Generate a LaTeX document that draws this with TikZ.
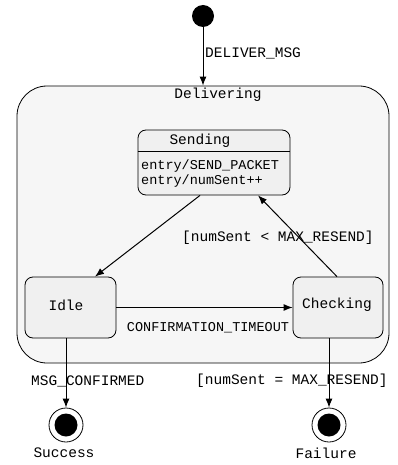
\documentclass[tikz,border=0pt]{standalone}
\usepackage{fontspec}
\setmonofont{Liberation Mono}
\usetikzlibrary{arrows.meta}

\tikzset{
  state/.style={draw, rounded corners=8pt, fill=gray!12, line width=0.8pt, inner sep=0pt},
  final/.style={circle, draw, line width=0.8pt, minimum size=34pt, inner sep=0pt},
  trans/.style={line width=1pt, -{Latex[length=9pt,width=7pt]}},
  lbl/.style={inner sep=0pt, font=\ttfamily\fontsize{14.5}{16}\selectfont},
  smalllbl/.style={inner sep=0pt, font=\ttfamily\fontsize{13.5}{15}\selectfont}
}

\begin{document}
\begin{tikzpicture}[x=1pt,y=-1pt]
        \useasboundingbox (0,0) rectangle (397,465);
        % composite state
        \node[draw, rounded corners=30pt, fill=gray!7, line width=0.8pt,
              minimum width=372pt, minimum height=277pt] (delivering) at (203,224.5) {};
        \node[lbl] (delivtitle) at (218,95) {Delivering};
        % initial state
        \node[circle, fill=black, minimum size=22pt, inner sep=0pt] (init) at (203,16) {};
        % sub states
        \node[state, minimum width=152pt, minimum height=65pt] (sending) at (214,162.5) {};
        \draw[line width=0.8pt] ([yshift=-22pt]sending.north west) -- ([yshift=-22pt]sending.north east);
        \node[lbl] (sendtitle) at (200,141) {Sending};
        \node[smalllbl, anchor=north west, align=left] (sendentry) at (141,160)
             {entry/SEND\_PACKET\\entry/numSent++};
        \node[state, minimum width=91pt, minimum height=61pt] (idle) at (70.5,307.5) {};
        \node[lbl] (idletext) at (66,305) {Idle};
        \node[state, minimum width=90pt, minimum height=61pt] (checking) at (338,307.5) {};
        \node[lbl] (checktext) at (337,305) {Checking};
        % final states
        \node[final] (success) at (66,425) {};
        \node[circle, fill=black, minimum size=23pt, inner sep=0pt] at (success) {};
        \node[lbl] (successtext) at (64,453) {Success};
        \node[final] (failure) at (329,425) {};
        \node[circle, fill=black, minimum size=23pt, inner sep=0pt] at (failure) {};
        \node[lbl] (failuretext) at (326,453) {Failure};
        % transitions
        \draw[trans] (init) -- (delivering.north);
        \node[lbl, anchor=west] at (205,53) {DELIVER\_MSG};
        \draw[trans] ([xshift=-14pt]sending.south) -- ([xshift=24.5pt]idle.north);
        \draw[trans] ([xshift=-1pt]checking.north) -- ([xshift=44pt]sending.south);
        \node[lbl, anchor=west] at (182,238) {[numSent < MAX\_RESEND]};
        \draw[trans] (idle.east) -- (checking.west);
        \node[smalllbl] at (208,328) {CONFIRMATION\_TIMEOUT};
        \draw[trans] (idle.south -| success.north) -- (success.north);
        \node[lbl, anchor=west] at (31,381) {MSG\_CONFIRMED};
        \draw[trans] (checking.south -| failure.north) -- (failure.north);
        \node[lbl, anchor=west] at (196,381) {[numSent = MAX\_RESEND]};
    \end{tikzpicture}
\end{document}
